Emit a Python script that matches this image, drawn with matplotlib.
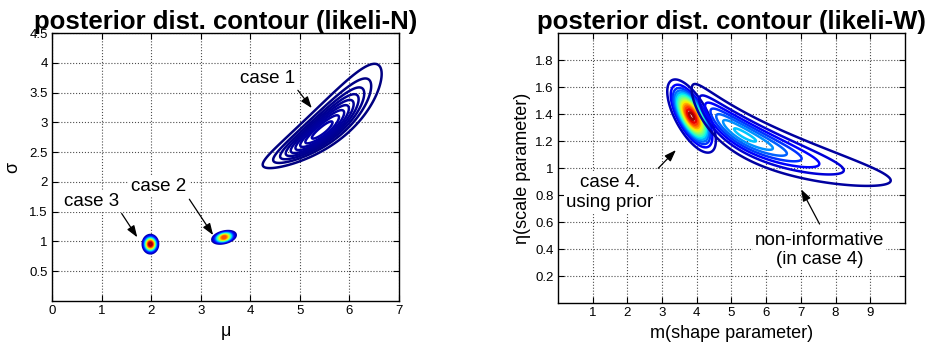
import numpy as np
import matplotlib
matplotlib.use("Agg")
import matplotlib.pyplot as plt
from matplotlib.colors import Normalize

plt.rcParams['font.family'] = ['Liberation Sans', 'DejaVu Sans']

# ---------------- left panel: posterior of (mu, sigma), normal likelihood ----------------
N_TITLE = "posterior dist. contour (likeli-N)"
N_XLABEL = "μ"
N_YLABEL = "σ"
N_XLIM = (0, 7)
N_YLIM = (0, 4.5)
N_XTICKS = [0, 1, 2, 3, 4, 5, 6, 7]
N_YTICKS = [0.5, 1, 1.5, 2, 2.5, 3, 3.5, 4, 4.5]
N_YTICKLABELS = ["0.5", "1", "1.5", "2", "2.5", "3", "3.5", "4", "4.5"]
N_CASES = ["case 1", "case 2", "case 3"]
N_SIG_MODE = [2.865, 1.07, 0.955]      # sigma at the mode
N_SIG_SHIFT = [1.41, None, None]       # log(sigma - shift) transform (skewed case)
N_SIG_SD = [0.26, 0.043, 0.063]
N_MU_MODE = [5.45, 3.47, 1.985]
N_MU_SLOPE = [1.85, 0.8, 0.0]
N_MU_SD = [0.26, 0.09, 0.063]
N_PEAK = [0.04, 0.85, 1.0]
N_LEVEL_LO = [0.09, 0.05, 0.05]
N_LEVEL_HI = [0.93, 0.97, 0.97]
N_LEVEL_N = [9, 20, 20]
N_LABEL_XY = [(4.345, 3.73), (2.157, 1.92), (0.79, 1.666)]
N_ARROW_FROM = [(4.96, 3.54), (2.77, 1.71), (1.405, 1.47)]
N_ARROW_TO = [(5.24, 3.24), (3.25, 1.107), (1.72, 1.07)]

# ---------------- right panel: posterior of (m, eta), Weibull likelihood ----------------
W_TITLE = "posterior dist. contour (likeli-W)"
W_XLABEL = "m(shape parameter)"
W_YLABEL = "η(scale parameter)"
W_XLIM = (0, 10)
W_YLIM = (0, 2)
W_XTICKS = [1, 2, 3, 4, 5, 6, 7, 8, 9]
W_YTICKS = [0.2, 0.4, 0.6, 0.8, 1.0, 1.2, 1.4, 1.6, 1.8]
W_YTICKLABELS = ["0.2", "0.4", "0.6", "0.8", "1", "1.2", "1.4", "1.6", "1.8"]
W_CASES = ["case 4.\nusing prior", "non-informative\n(in case 4)"]
W_M_MODE = [3.85, 5.37]
W_M_SHIFT = [None, 3.0]
W_M_SD = [0.286, 0.466]
W_ETA_MODE = [1.385, 1.245]
W_ETA_SLOPE = [-0.26, -0.33]
W_ETA_SD = [0.082, 0.077]
W_PEAK = [1.0, 0.33]
W_LEVEL_LO = [0.05, 0.09]
W_LEVEL_HI = [0.97, 0.96]
W_LEVEL_N = [16, 7]
W_LABEL_XY = [(1.50, 0.82), (7.54, 0.393)]
W_ARROW_FROM = [(2.89, 0.998), (7.54, 0.585)]
W_ARROW_TO = [(3.40, 1.133), (7.01, 0.842)]


def density(P, C, mode, shift, sd_p, c_mode, slope, sd_c, peak):
    """Unnormalised posterior-like surface: primary variable P, conditional C."""
    if shift is None:
        valid = np.ones_like(P, dtype=bool)
        u = P - mode
    else:
        valid = P > shift
        u = np.log(np.where(valid, P - shift, 1.0)) - np.log(mode - shift)
    d2 = (u / sd_p) ** 2 + ((C - c_mode - slope * u) / sd_c) ** 2
    return np.where(valid, peak * np.exp(-0.5 * d2), 0.0)


norm = Normalize(0, 1)
fig = plt.figure(figsize=(9.29, 3.45), dpi=100)
axL = fig.add_axes([0.056, 0.1275, 0.3735, 0.7765])
axR = fig.add_axes([0.6006, 0.1217, 0.3735, 0.7826])

text_kw = dict(ha='center', va='center', fontsize=13.5, zorder=6,
               bbox=dict(facecolor='white', edgecolor='none', pad=1.5))
arrow_kw = dict(arrowstyle='-|>,head_length=0.7,head_width=0.25', color='black',
                lw=0.9, shrinkA=0, shrinkB=0)
LW = 1.8

# left panel
xs = np.linspace(N_XLIM[0], N_XLIM[1], 1401)
ys = np.linspace(N_YLIM[0], N_YLIM[1], 1201)
MU, SIG = np.meshgrid(xs, ys)
for i in range(len(N_CASES)):
    Z = density(SIG, MU, N_SIG_MODE[i], N_SIG_SHIFT[i], N_SIG_SD[i],
                N_MU_MODE[i], N_MU_SLOPE[i], N_MU_SD[i], N_PEAK[i])
    lv = N_PEAK[i] * np.linspace(N_LEVEL_LO[i], N_LEVEL_HI[i], N_LEVEL_N[i])
    axL.contour(MU, SIG, Z, levels=lv, cmap='jet', norm=norm, linewidths=LW, zorder=3)
    axL.text(*N_LABEL_XY[i], N_CASES[i], **text_kw)
    axL.annotate('', xy=N_ARROW_TO[i], xytext=N_ARROW_FROM[i], arrowprops=arrow_kw, zorder=7)

# right panel
xs = np.linspace(W_XLIM[0], W_XLIM[1], 1501)
ys = np.linspace(W_YLIM[0], W_YLIM[1], 801)
M, ETA = np.meshgrid(xs, ys)
for i in range(len(W_CASES)):
    Z = density(M, ETA, W_M_MODE[i], W_M_SHIFT[i], W_M_SD[i],
                W_ETA_MODE[i], W_ETA_SLOPE[i], W_ETA_SD[i], W_PEAK[i])
    lv = W_PEAK[i] * np.linspace(W_LEVEL_LO[i], W_LEVEL_HI[i], W_LEVEL_N[i])
    axR.contour(M, ETA, Z, levels=lv, cmap='jet', norm=norm, linewidths=LW, zorder=3)
    axR.text(*W_LABEL_XY[i], W_CASES[i], multialignment='center', **text_kw)
    axR.annotate('', xy=W_ARROW_TO[i], xytext=W_ARROW_FROM[i], arrowprops=arrow_kw, zorder=7)

for ax, title, xlim, ylim, xt, yt in [
        (axL, N_TITLE, N_XLIM, N_YLIM, N_XTICKS, N_YTICKS),
        (axR, W_TITLE, W_XLIM, W_YLIM, W_XTICKS, W_YTICKS)]:
    ax.set_xlim(*xlim)
    ax.set_ylim(*ylim)
    ax.set_xticks(xt)
    ax.set_yticks(yt)
    ax.grid(True, linestyle=':', color='0.3', linewidth=0.8)
    ax.set_axisbelow(True)
    ax.tick_params(direction='in', top=True, right=True, length=4, width=0.8,
                   labelsize=9.5, pad=3)
    for s in ax.spines.values():
        s.set_linewidth(1.0)
    ax.set_title(title, fontsize=18.5, fontweight='bold', pad=3)

axL.set_xticklabels([str(v) for v in N_XTICKS])
axL.set_yticklabels(N_YTICKLABELS)
axR.set_xticklabels([str(v) for v in W_XTICKS])
axR.set_yticklabels(W_YTICKLABELS)
axL.set_xlabel(N_XLABEL, fontsize=13, labelpad=4)
axL.set_ylabel(N_YLABEL, fontsize=13, labelpad=6)
axR.set_xlabel(W_XLABEL, fontsize=13, labelpad=4)
axR.set_ylabel(W_YLABEL, fontsize=13, labelpad=3)

fig.savefig("out.png", dpi=100)
